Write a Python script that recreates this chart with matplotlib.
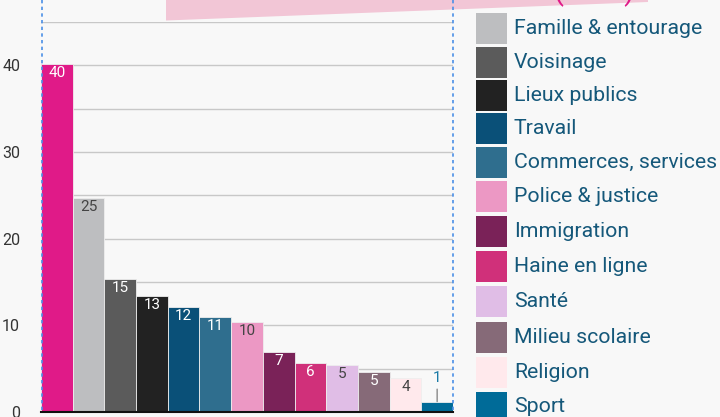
import numpy as np
import matplotlib
matplotlib.use('Agg')
import matplotlib.pyplot as plt
from matplotlib.patches import Polygon, Rectangle

plt.rcParams['font.family'] = ['Roboto', 'DejaVu Sans']

# donnees
categories = ['Origine', 'Famille & entourage', 'Voisinage', 'Lieux publics', 'Travail',
              'Commerces, services', 'Police & justice', 'Immigration', 'Haine en ligne',
              'Santé', 'Milieu scolaire', 'Religion', 'Sport']
values = [40.2, 24.7, 15.3, 13.4, 12.1, 11.0, 10.4, 6.9, 5.7, 5.4, 4.6, 3.9, 1.2]
value_labels = ['40', '25', '15', '13', '12', '11', '10', '7', '6', '5', '5', '4', '1']
y_ticks = [0, 10, 20, 30, 40]

colors = ['#e01a88', '#bdbec0', '#5b5b5b', '#222222', '#0a5078', '#2f6e8e', '#ec98c4',
          '#7a2258', '#d0307a', '#e0bde6', '#866a78', '#ffe9ec', '#006b98']
text_colors = ['white', '#444444', 'white', 'white', 'white', 'white', '#444444',
               'white', 'white', '#444444', 'white', '#444444', '#1a7aa6']

W, H = 720, 417
bg = '#f8f8f8'

fig = plt.figure(figsize=(7.2, 4.17), dpi=100)
fig.patch.set_facecolor(bg)

# zone du graphique (pixels -> fraction)
ax = fig.add_axes([41 / W, (H - 412) / H, (453 - 41) / W, (412 - 22) / H])
ax.set_facecolor(bg)
x = np.arange(len(values))
ax.bar(x, values, width=1.0, color=colors, edgecolor='#eeeeee', linewidth=0.6, zorder=3)
ax.set_xlim(-0.5, len(values) - 0.5)
ax.set_ylim(0, 45)
ax.set_yticks(y_ticks)
ax.set_yticks(np.arange(5, 50, 10), minor=True)
ax.grid(axis='y', which='both', color='#c8c8c8', lw=1, zorder=0)
for s in ['top', 'right', 'left']:
    ax.spines[s].set_visible(False)
ax.spines['bottom'].set_color('#111111')
ax.spines['bottom'].set_linewidth(1.5)
ax.spines['bottom'].set_zorder(4)
ax.tick_params(axis='y', which='both', length=0, pad=15, labelsize=11.5, labelcolor='#333333')
ax.tick_params(axis='x', bottom=False, labelbottom=False)

for i in range(len(values)):
    if values[i] < 2:
        ax.annotate(value_labels[i], (x[i], values[i]), xytext=(0, 17), textcoords='offset points',
                    ha='center', va='center', color=text_colors[i], fontsize=11,
                    arrowprops=dict(arrowstyle='-', color='#888888', lw=1, shrinkA=1, shrinkB=0))
    else:
        ax.annotate(value_labels[i], (x[i], values[i]), xytext=(0, -6.5), textcoords='offset points',
                    ha='center', va='center', color=text_colors[i], fontsize=11, zorder=5)

# calque en pixels pour le bandeau, les guides et la legende
ov = fig.add_axes([0, 0, 1, 1])
ov.set_xlim(0, W)
ov.set_ylim(H, 0)
ov.axis('off')
ov.patch.set_alpha(0)

ov.add_patch(Polygon([(166, 0), (166, 20.5), (648, 2), (648, 0)], closed=True,
                     color='#f2c6d6', lw=0))
ov.text(594, 0, '(en %)', ha='center', va='baseline', fontsize=21, color='#e01a88')

ov.plot([41.5, 41.5], [0, 412], ls=(0, (2, 2)), color='#4a8fe7', lw=1.2)
ov.plot([453, 453], [0, 410], ls=(0, (2, 2)), color='#4a8fe7', lw=1.2)

legend_y = [28.3, 62.3, 95.3, 128.7, 162.2, 196.5, 231.5, 266.5, 301.5, 337.3, 372.2, 407]
for k, (name, col) in enumerate(zip(categories[1:], colors[1:])):
    cy = legend_y[k]
    ov.add_patch(Rectangle((476, cy - 15.5), 31, 31, color=col, lw=0))
    ov.text(514, cy + 5.5, name, ha='left', va='baseline', fontsize=15.3, color='#15587a')

fig.savefig('out.png', dpi=100, facecolor=bg)
